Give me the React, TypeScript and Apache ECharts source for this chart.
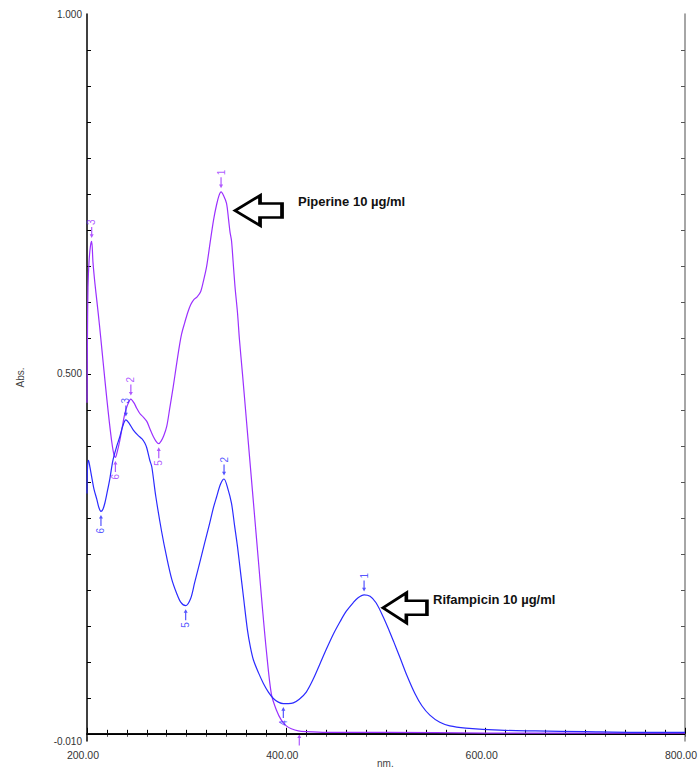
import React, { useEffect, useRef } from "react";
import * as echarts from "echarts";

// Piperine 10 µg/ml spectrum (nm, Abs)
const piperineNm = [200, 200.5, 201, 202, 203.5, 204.7, 206, 208, 210, 212.5, 215, 217.5, 220, 222.5, 225, 227, 228.5, 230, 233, 235.5, 238, 241, 244, 247, 250, 253, 256.5, 260, 263, 266.5, 269.5, 272, 274.5, 277, 280, 283, 286.5, 289.5, 292.6, 295, 298, 301, 304, 307, 310.5, 314, 317, 320, 323.5, 327, 330, 332.5, 334.5, 337, 340, 342, 343.5, 345, 346.5, 348.5, 351, 353, 356, 360, 364, 368, 372, 376, 380, 385, 390, 395, 400, 405, 412, 420, 440, 500, 600, 700, 800];
const piperineAbs = [0.46, 0.56, 0.62, 0.655, 0.678, 0.684, 0.655, 0.625, 0.6, 0.568, 0.533, 0.498, 0.464, 0.432, 0.404, 0.388, 0.384, 0.39, 0.408, 0.427, 0.445, 0.458, 0.465, 0.46, 0.452, 0.445, 0.44, 0.434, 0.424, 0.413, 0.406, 0.403, 0.407, 0.414, 0.427, 0.452, 0.482, 0.51, 0.538, 0.556, 0.571, 0.585, 0.596, 0.603, 0.607, 0.614, 0.63, 0.649, 0.682, 0.714, 0.735, 0.748, 0.753, 0.748, 0.737, 0.715, 0.697, 0.685, 0.658, 0.621, 0.585, 0.547, 0.5, 0.435, 0.37, 0.305, 0.24, 0.175, 0.115, 0.055, 0.033, 0.019, 0.011, 0.007, 0.004, 0.003, 0.002, 0.002, 0.001, 0.001, 0.001];

// Rifampicin 10 µg/ml spectrum (nm, Abs)
const rifampicinNm = [200, 200.5, 201.5, 203, 204.7, 207, 210, 212, 214, 216, 218, 220, 223, 226, 229.5, 233, 236, 239, 242, 246.5, 251, 255, 258, 260, 263, 265, 269, 275, 280, 285, 290, 294, 299, 304, 308, 313, 318, 323, 327, 330, 334, 337.5, 341, 345, 348, 351, 354, 357, 361, 364, 367, 372, 377, 382, 387, 392, 397, 402, 407, 413, 420, 427, 434, 440, 447, 454, 460, 467, 472, 478, 484, 490, 497, 503, 508, 514, 521, 529, 536, 544, 554, 564, 580, 614, 650, 700, 750, 800];
const rifampicinAbs = [0.334, 0.37, 0.38, 0.37, 0.357, 0.34, 0.325, 0.314, 0.309, 0.312, 0.321, 0.334, 0.355, 0.38, 0.398, 0.413, 0.428, 0.436, 0.432, 0.422, 0.415, 0.41, 0.404, 0.397, 0.38, 0.371, 0.33, 0.28, 0.245, 0.215, 0.195, 0.183, 0.178, 0.188, 0.21, 0.237, 0.265, 0.292, 0.315, 0.329, 0.347, 0.354, 0.342, 0.32, 0.29, 0.26, 0.225, 0.19, 0.144, 0.12, 0.1025, 0.085, 0.07, 0.058, 0.049, 0.044, 0.042, 0.042, 0.043, 0.048, 0.058, 0.076, 0.098, 0.117, 0.138, 0.156, 0.17, 0.182, 0.189, 0.193, 0.191, 0.182, 0.163, 0.144, 0.127, 0.106, 0.081, 0.056, 0.039, 0.026, 0.016, 0.011, 0.008, 0.005, 0.004, 0.003, 0.002, 0.002];

// Peak / valley picks
const piperinePeakNm = [334.5, 244, 204.7];
const piperinePeakAbs = [0.753, 0.465, 0.684];
const piperinePeakNo = ["1", "2", "3"];
const piperineValleyNm = [413, 272, 228.5];
const piperineValleyAbs = [0.004, 0.403, 0.384];
const piperineValleyNo = ["", "5", "6"];

const rifampicinPeakNm = [478, 337.5, 239];
const rifampicinPeakAbs = [0.193, 0.354, 0.436];
const rifampicinPeakNo = ["1", "2", "3"];
const rifampicinValleyNm = [397, 299, 214];
const rifampicinValleyAbs = [0.042, 0.178, 0.309];
const rifampicinValleyNo = ["4", "5", "6"];

// Axes
const xMin = 200;
const xMax = 800;
const xInterval = 200;
const yMin = -0.01;
const yMax = 1.0;
const yLabelValues = [-0.01, 0.5, 1.0];
const yTickValues = [0.05, 0.1, 0.15, 0.2, 0.25, 0.3, 0.35, 0.4, 0.45, 0.5, 0.55, 0.6, 0.65, 0.7, 0.75, 0.8, 0.85, 0.9, 0.95];

const PURPLE = "#9b30ff";
const BLUE = "#2b2bff";

const downArrow = "path://M-0.6,0 L0.6,0 L0.6,8 L2,8 L0,12 L-2,8 L-0.6,8 Z";
const upArrow = "path://M0,0 L2,4 L0.6,4 L0.6,12 L-0.6,12 L-0.6,4 L-2,4 Z";
const bigLeftArrow = "path://M0,15 L25,0 L25,8 L47,8 L47,22 L25,22 L25,30 Z";

function zip(a: number[], b: number[]) {
  return a.map((v, i) => [v, b[i]]);
}

function pickSeries(name: string, nm: number[], abs: number[], no: string[], color: string, peak: boolean) {
  return {
    name,
    type: "scatter",
    data: nm.map((v, i) => ({ value: [v, abs[i]], no: no[i] })),
    symbol: peak ? downArrow : upArrow,
    symbolSize: [4, 11],
    symbolOffset: [0, peak ? -9 : 9],
    itemStyle: { color },
    label: {
      show: true,
      position: peak ? "top" : "bottom",
      distance: 2,
      rotate: 90,
      align: peak ? "left" : "right",
      verticalAlign: "middle",
      color,
      fontSize: 10,
      fontFamily: "Liberation Sans, Arial, sans-serif",
      formatter: (p: any) => p.data.no,
    },
    silent: true,
    z: 4,
  };
}

export default function App() {
  const ref = useRef<HTMLDivElement>(null);
  useEffect(() => {
    if (!ref.current) return;
    const chart = echarts.init(ref.current, null, { renderer: "svg" });
    const font = "Liberation Sans, Arial, sans-serif";
    const option: any = {
      animation: false,
      backgroundColor: "#ffffff",
      textStyle: { fontFamily: font },
      grid: { left: 87, top: 14, right: 13, bottom: 31, containLabel: false, outerBoundsMode: "none" },
      xAxis: [
        {
          type: "value",
          min: xMin,
          max: xMax,
          interval: xInterval,
          position: "bottom",
          axisLine: { lineStyle: { color: "#000", width: 1.5 } },
          axisTick: { inside: true, length: 6, lineStyle: { color: "#000" } },
          minorTick: { show: true, splitNumber: 10, length: 4, lineStyle: { color: "#000" } },
          axisLabel: { formatter: (v: number) => v.toFixed(2), fontSize: 10.5, color: "#333", margin: 8, padding: [0, 8, 0, 0], fontFamily: font },
          splitLine: { show: false },
          minorSplitLine: { show: false },
        },
        {
          type: "value",
          min: xMin,
          max: xMax,
          interval: xInterval,
          position: "top",
          axisLine: { lineStyle: { color: "#000", width: 1.5 } },
          axisTick: { inside: true, length: 3, lineStyle: { color: "#555" } },
          minorTick: { show: true, splitNumber: 10, length: 3, lineStyle: { color: "#555" } },
          axisLabel: { show: false },
          splitLine: { show: false },
        },
      ],
      yAxis: [
        {
          type: "value",
          min: yMin,
          max: yMax,
          position: "left",
          name: "Abs.",
          nameLocation: "middle",
          nameGap: 62,
          nameRotate: 90,
          nameTextStyle: { fontSize: 10, color: "#444", fontFamily: font },
          axisLine: { show: true, lineStyle: { color: "#000", width: 1.5 } },
          axisTick: { show: true, inside: true, length: 4, customValues: yTickValues, lineStyle: { color: "#000" } },
          axisLabel: { customValues: yLabelValues, formatter: (v: number) => v.toFixed(3), fontSize: 10, color: "#333", margin: 5, fontFamily: font },
          splitLine: { show: false },
        },
        {
          type: "value",
          min: yMin,
          max: yMax,
          position: "right",
          axisLine: { show: true, lineStyle: { color: "#888", width: 1.5 } },
          axisTick: { show: true, inside: true, length: 4, customValues: yTickValues, lineStyle: { color: "#555" } },
          axisLabel: { show: false },
          splitLine: { show: false },
        },
      ],
      graphic: [
        {
          type: "text",
          left: 298,
          top: 195,
          style: { text: "Piperine 10 µg/ml", font: `bold 13px ${font}`, fill: "#111" },
        },
        {
          type: "text",
          left: 433,
          top: 593,
          style: { text: "Rifampicin 10 µg/ml", font: `bold 13px ${font}`, fill: "#111" },
        },
        {
          type: "text",
          left: 377,
          top: 758,
          style: { text: "nm.", font: `10px ${font}`, fill: "#444" },
        },
      ],
      series: [
        {
          name: "Piperine",
          type: "line",
          data: zip(piperineNm, piperineAbs),
          showSymbol: false,
          smooth: 0.3,
          lineStyle: { color: PURPLE, width: 1.2 },
          z: 3,
          markLine: {
            silent: true,
            symbol: "none",
            label: { show: false },
            lineStyle: { color: "#000", width: 1.2, type: "solid" },
            data: [{ yAxis: 0 }],
          },
          markPoint: {
            silent: true,
            data: [
              {
                coord: [372.1, 0.727],
                symbol: bigLeftArrow,
                symbolSize: [47, 30],
                itemStyle: { color: "#fff", borderColor: "#000", borderWidth: 3 },
                label: { show: false },
              },
            ],
          },
        },
        {
          name: "Rifampicin",
          type: "line",
          data: zip(rifampicinNm, rifampicinAbs),
          showSymbol: false,
          smooth: 0.3,
          lineStyle: { color: BLUE, width: 1.2 },
          z: 3,
          markPoint: {
            silent: true,
            data: [
              {
                coord: [519, 0.175],
                symbol: bigLeftArrow,
                symbolSize: [44, 30],
                itemStyle: { color: "#fff", borderColor: "#000", borderWidth: 3 },
                label: { show: false },
              },
            ],
          },
        },
        pickSeries("pp", piperinePeakNm, piperinePeakAbs, piperinePeakNo, PURPLE, true),
        pickSeries("pv", piperineValleyNm, piperineValleyAbs, piperineValleyNo, PURPLE, false),
        pickSeries("rp", rifampicinPeakNm, rifampicinPeakAbs, rifampicinPeakNo, BLUE, true),
        pickSeries("rv", rifampicinValleyNm, rifampicinValleyAbs, rifampicinValleyNo, BLUE, false),
      ],
    };
    chart.setOption(option);
    return () => chart.dispose();
  }, []);
  return <div ref={ref} style={{ position: "fixed", left: 0, top: 0, width: 698, height: 772, background: "#fff" }} />;
}
